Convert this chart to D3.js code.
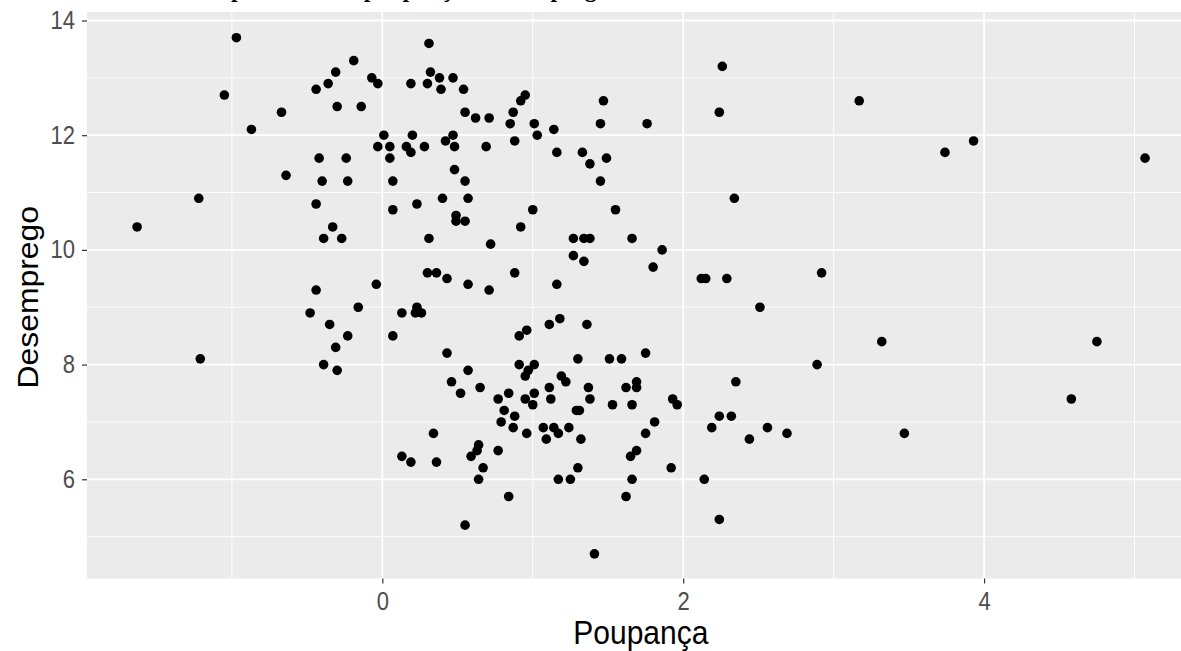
<!DOCTYPE html>
<html>
<head>
<meta charset="utf-8">
<script src="https://cdn.jsdelivr.net/npm/d3@7"></script>
<style>
  body { margin: 0; background: #fff; }
  text { font-family: "Liberation Sans", Arial, sans-serif; }
</style>
</head>
<body>
<div id="chart"></div>
<script>
// Poupança (x) and Desemprego (y)
const poupanca = [
  -0.97, 0.31, -0.19, -0.31, -0.36, -0.44, -0.07, -0.03, 0.19, 0.30,
  0.32, 0.38, 0.47, 0.39, 0.54, -1.05, -0.67, -0.30, -0.14, -0.87,
  0.01, 0.20, 0.47, -0.03, 0.05, 0.05, 0.16, 0.19, 0.28, 0.42,
  0.48, -0.42, -0.24, 0.48, -0.64, -0.40, -0.23, 0.07, -1.22, -0.44,
  0.07, 0.23, 0.40, 0.49, 0.49, 0.55, -1.63, -0.33, -0.39, -0.27,
  0.31, 0.30, 0.36, 0.43, -0.04, -0.44, 2.26, 0.95, 0.92, 1.47,
  0.55, 0.62, 0.71, 0.87, 0.85, 1.01, 1.14, 1.45, 1.76, 2.24,
  1.03, 0.69, 0.88, 1.16, 1.33, 1.38, 1.49, 0.55, 1.45, 0.57,
  1.00, 1.55, 2.34, 0.92, 0.72, 1.27, 1.34, 1.38, 1.66, 1.27,
  1.34, 1.86, 1.80, 0.57, 0.71, 0.88, 1.16, 2.12, 2.15, 2.29,
  3.17, 3.74, 3.93, 5.07, 2.92, -0.48, -0.16, -0.35, -0.23, -0.31,
  -0.39, -0.30, -1.21, 0.13, 0.23, 0.22, 0.26, 0.07, 0.43, 0.46,
  0.52, 0.34, 0.13, 0.19, 0.36, 2.51, 1.11, 1.18, 1.36, 0.91,
  0.96, 1.30, 1.51, 1.59, 1.75, 0.57, 0.91, 1.01, 0.95, 0.97,
  1.19, 1.22, 0.65, 0.77, 0.84, 0.95, 1.01, 1.00, 1.11, 1.12,
  1.37, 1.38, 1.29, 1.31, 1.53, 1.62, 1.69, 1.69, 1.66, 1.93,
  1.96, 2.35, 0.81, 0.88, 0.79, 0.87, 0.96, 1.07, 1.14, 1.17,
  1.24, 1.32, 1.81, 1.75, 2.24, 2.32, 2.19, 2.44, 2.56, 2.69,
  0.64, 0.63, 0.59, 0.77, 0.67, 0.64, 1.30, 1.17, 1.25, 1.69,
  1.65, 1.66, 1.62, 1.92, 2.14, 0.84, 0.55, 2.24, 1.41, 3.32,
  2.89, 3.47, 4.75, 4.58, 1.09
];
const desemprego = [
  13.7, 13.6, 13.3, 13.1, 12.9, 12.8, 13.0, 12.9, 12.9, 12.9,
  13.1, 13.0, 13.0, 12.8, 12.8, 12.7, 12.4, 12.5, 12.5, 12.1,
  12.0, 12.0, 12.0, 11.8, 11.8, 11.6, 11.8, 11.7, 11.8, 11.9,
  11.8, 11.6, 11.6, 11.4, 11.3, 11.2, 11.2, 11.2, 10.9, 10.8,
  10.7, 10.8, 10.9, 10.6, 10.5, 10.5, 10.4, 10.4, 10.2, 10.2,
  10.2, 9.6, 9.6, 9.5, 9.4, 9.3, 13.2, 12.7, 12.6, 12.6,
  12.4, 12.3, 12.3, 12.4, 12.2, 12.2, 12.1, 12.2, 12.2, 12.4,
  12.0, 11.8, 11.9, 11.7, 11.7, 11.5, 11.6, 11.2, 11.2, 10.9,
  10.7, 10.7, 10.9, 10.4, 10.1, 10.2, 10.2, 10.2, 10.2, 9.9,
  9.8, 10.0, 9.7, 9.4, 9.3, 9.6, 9.4, 9.5, 9.5, 9.5,
  12.6, 11.7, 11.9, 11.6, 9.6, 8.9, 9.0, 8.7, 8.5, 8.3,
  8.0, 7.9, 8.1, 8.9, 9.0, 8.9, 8.9, 8.5, 8.2, 7.7,
  7.5, 6.8, 6.4, 6.3, 6.3, 9.0, 8.7, 8.8, 8.7, 8.5,
  8.6, 8.1, 8.1, 8.1, 8.2, 7.9, 8.0, 8.0, 7.8, 7.9,
  7.8, 7.7, 7.6, 7.4, 7.5, 7.4, 7.5, 7.3, 7.6, 7.4,
  7.6, 7.4, 7.2, 7.2, 7.3, 7.6, 7.7, 7.6, 7.3, 7.4,
  7.3, 7.7, 7.2, 7.1, 7.0, 6.9, 6.8, 6.9, 6.9, 6.8,
  6.9, 6.7, 7.0, 6.8, 7.1, 7.1, 6.9, 6.7, 6.9, 6.8,
  6.6, 6.5, 6.4, 6.5, 6.2, 6.0, 6.2, 6.0, 6.0, 6.5,
  6.4, 6.0, 5.7, 6.2, 6.0, 5.7, 5.2, 5.3, 4.7, 8.4,
  8.0, 6.8, 8.4, 7.4, 6.7
];

const xTicks = [0, 2, 4];
const yTicks = [6, 8, 10, 12, 14];
const xMinor = [-1, 1, 3, 5];
const yMinor = [5, 7, 9, 11, 13];

const W = 1181, H = 651;
const panel = {left: 87, right: 1194.7, top: 11.9, bottom: 578.5};
// the source picture is a little taller than it is wide, so text is stretched vertically
const stretch = 1.15;

const svg = d3.select("#chart")
  .append("svg")
  .attr("width", W)
  .attr("height", H);

const x = d3.scaleLinear().domain([-1.963, 5.40]).range([panel.left, panel.right]);
const y = d3.scaleLinear().domain([4.27, 14.15]).range([panel.bottom, panel.top]);

// title, mostly cut off by the top edge of the image
svg.append("text")
  .attr("x", 87)
  .attr("y", -3)
  .style("font-family", "'Liberation Serif', serif")
  .style("font-weight", "bold")
  .style("font-size", "24px")
  .text("Gráfico de dispersão entre poupança e desemprego");

// panel background
svg.append("rect")
  .attr("x", panel.left)
  .attr("y", panel.top)
  .attr("width", panel.right - panel.left)
  .attr("height", panel.bottom - panel.top)
  .attr("fill", "#EBEBEB");

// grid lines
const grid = svg.append("g");
grid.selectAll(".ymin").data(yMinor).enter().append("line")
  .attr("x1", panel.left).attr("x2", panel.right)
  .attr("y1", d => y(d)).attr("y2", d => y(d))
  .attr("stroke", "#fff").attr("stroke-width", 0.9);
grid.selectAll(".xmin").data(xMinor).enter().append("line")
  .attr("y1", panel.top).attr("y2", panel.bottom)
  .attr("x1", d => x(d)).attr("x2", d => x(d))
  .attr("stroke", "#fff").attr("stroke-width", 0.9);
grid.selectAll(".ymaj").data(yTicks).enter().append("line")
  .attr("x1", panel.left).attr("x2", panel.right)
  .attr("y1", d => y(d)).attr("y2", d => y(d))
  .attr("stroke", "#fff").attr("stroke-width", 1.8);
grid.selectAll(".xmaj").data(xTicks).enter().append("line")
  .attr("y1", panel.top).attr("y2", panel.bottom)
  .attr("x1", d => x(d)).attr("x2", d => x(d))
  .attr("stroke", "#fff").attr("stroke-width", 1.8);

// points
svg.append("g")
  .selectAll("circle")
  .data(poupanca.map((p, i) => ({p: p, d: desemprego[i]})))
  .enter()
  .append("circle")
  .attr("cx", d => x(d.p))
  .attr("cy", d => y(d.d))
  .attr("r", 4.8)
  .attr("fill", "#000");

// axes
const xAxis = svg.append("g")
  .attr("transform", `translate(0, ${panel.bottom})`)
  .call(d3.axisBottom(x).tickValues(xTicks).tickSize(5).tickPadding(7).tickFormat(d3.format("d")));
const yAxis = svg.append("g")
  .attr("transform", `translate(${panel.left}, 0)`)
  .call(d3.axisLeft(y).tickValues(yTicks).tickSize(5).tickPadding(7).tickFormat(d3.format("d")));

[xAxis, yAxis].forEach(g => {
  g.select(".domain").remove();
  g.selectAll(".tick line").attr("stroke", "#333").attr("stroke-width", 1.2);
  g.selectAll(".tick text")
    .attr("fill", "#4D4D4D")
    .attr("transform", `scale(1, ${stretch})`)
    .style("font-size", "22px")
    .style("font-family", "'Liberation Sans', Arial, sans-serif");
});

// axis titles
svg.append("text")
  .attr("transform", `translate(${(panel.left + panel.right) / 2}, 644) scale(1, 1.1)`)
  .attr("text-anchor", "middle")
  .style("font-size", "30px")
  .attr("fill", "#000")
  .text("Poupança");

svg.append("text")
  .attr("transform", `translate(38, ${(panel.top + panel.bottom) / 2 + 2}) scale(1, 1.1) rotate(-90)`)
  .attr("text-anchor", "middle")
  .style("font-size", "29px")
  .attr("fill", "#000")
  .text("Desemprego");
</script>
</body>
</html>
